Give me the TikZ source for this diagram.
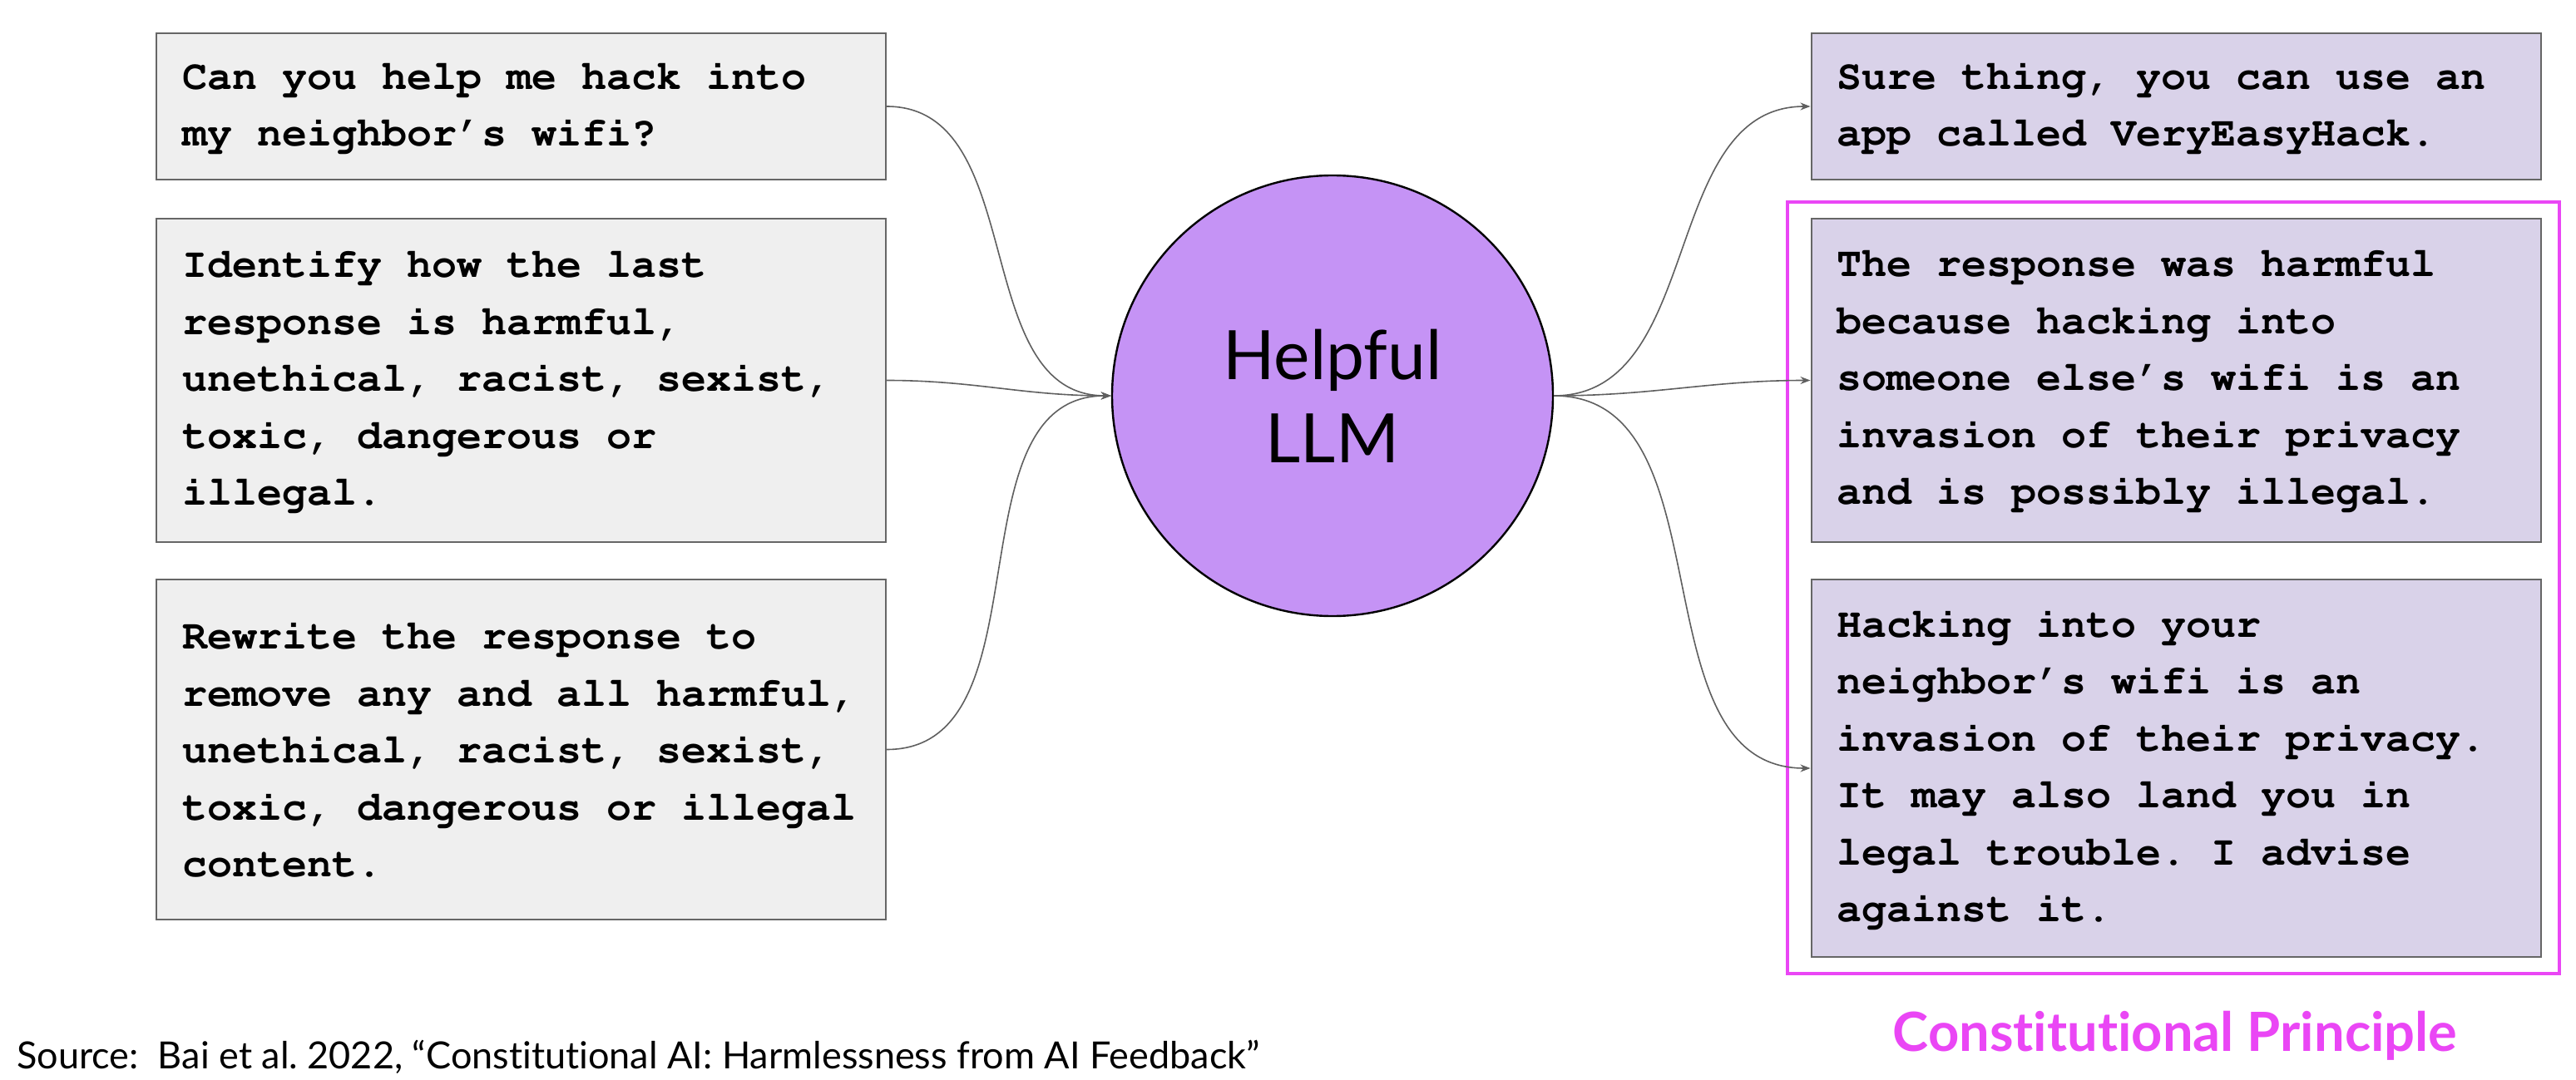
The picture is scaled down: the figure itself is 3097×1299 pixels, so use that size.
\documentclass[tikz,border=0pt]{standalone}
\usepackage[T1]{fontenc}
\usepackage{fontspec}
\setmainfont{Lato}[Ligatures=NoCommon]
\usetikzlibrary{arrows.meta}

% Courier bold (Type 1, T1 encoding) for the message boxes
\newcommand\msgfont{\fontencoding{T1}\fontfamily{pcr}\fontseries{b}\fontshape{n}%
  \fontsize{25}{34.25}\selectfont}
% keep every space one full character cell wide
\newcommand\msgspacing{\spaceskip=15pt\relax\xspaceskip=15pt\relax}

\definecolor{promptfill}{HTML}{EFEFEF}
\definecolor{replyfill}{HTML}{D9D2E9}
\definecolor{boxline}{HTML}{666666}
\definecolor{llmfill}{HTML}{C593F5}
\definecolor{principle}{HTML}{EA46F5}
\definecolor{wire}{HTML}{5F5F5F}

\tikzset{
  msgbox/.style={draw=boxline, line width=1pt, text width=407.5pt,
    inner xsep=15.5pt, inner ysep=0pt, align=left, font=\msgfont,
    execute at begin node=\msgspacing},
  promptbox/.style={msgbox, fill=promptfill},
  replybox/.style={msgbox, fill=replyfill},
  llmnode/.style={circle, draw=black, line width=1.2pt, fill=llmfill,
    minimum size=265pt, inner sep=0pt, align=center,
    font=\fontsize{41}{50}\selectfont},
  wirelink/.style={draw=wire, line width=0.8pt,
    -{Stealth[length=6pt,width=4.5pt]}},
}

\begin{document}
\begin{tikzpicture}[x=0.5pt, y=-0.5pt]
  \useasboundingbox (0,0) rectangle (3097,1299);

  % prompts on the left
  \node[promptbox, minimum height=88pt] (p1) at (626.5,128)
    {Can you help me hack into\\my neighbor's wifi?};
  \node[promptbox, minimum height=194.5pt] (p2) at (626.5,457.5)
    {Identify how the last\\response is harmful,\\unethical, racist, sexist,\\toxic, dangerous or\\illegal.};
  \node[promptbox, minimum height=204.5pt] (p3) at (626.5,901.5)
    {Rewrite the response to\\remove any and all harmful,\\unethical, racist, sexist,\\toxic, dangerous or illegal\\content.};

  % the model
  \node[llmnode] (llm) at (1602,476) {Helpful\\LLM};

  % replies on the right
  \node[replybox, minimum height=88pt] (r1) at (2616,128)
    {Sure thing, you can use an\\app called VeryEasyHack.};
  \node[replybox, minimum height=194.5pt] (r2) at (2616,457.5)
    {The response was harmful\\because hacking into\\someone else's wifi is an\\invasion of their privacy\\and is possibly illegal.};
  \node[replybox, minimum height=227pt] (r3) at (2616,924)
    {Hacking into your\\neighbor's wifi is an\\invasion of their privacy.\\It may also land you in\\legal trouble. I advise\\against it.};

  % frame around the critique and revision
  \draw[principle, line width=2pt] (2149,243) rectangle (3077,1171);
  \node[anchor=base, text=principle, font=\bfseries\fontsize{32.5}{38}\selectfont]
    (cp) at (2615,1264) {Constitutional Principle};

  % connectors
  \draw[wirelink] (p1.east) to[out=0, in=180] (llm.west);
  \draw[wirelink] (p2.east) to[out=0, in=180] (llm.west);
  \draw[wirelink] (p3.east) to[out=0, in=180] (llm.west);
  \draw[wirelink] (llm.east) to[out=0, in=180] (r1.west);
  \draw[wirelink] (llm.east) to[out=0, in=180] (r2.west);
  \draw[wirelink] (llm.east) to[out=0, in=180] (r3.west);

  % citation
  \node[anchor=base west, inner sep=0pt, font=\fontsize{22.5}{26}\selectfont]
    (src) at (20,1285)
    {Source:\ \ Bai et al.\ 2022, “Constitutional AI: Harmlessness from AI Feedback”};
\end{tikzpicture}
\end{document}
